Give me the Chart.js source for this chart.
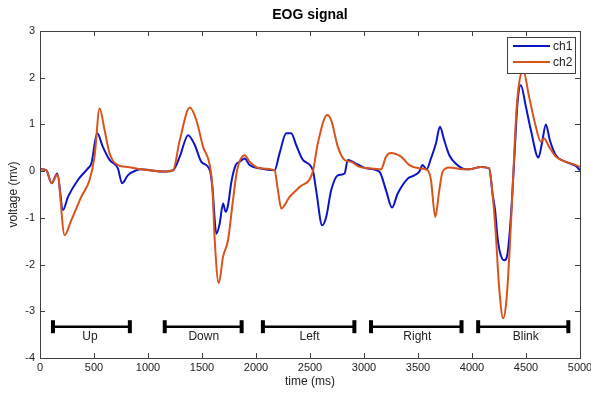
<!DOCTYPE html>
<html>
<head>
<meta charset="utf-8">
<script src="https://cdn.jsdelivr.net/npm/chart.js@4"></script>
<style>
  html, body { margin: 0; padding: 0; background: #fff; }
  #wrap { width: 591px; height: 394px; }
</style>
</head>
<body>
<div id="wrap"><canvas id="eog"></canvas></div>
<script>
// Channel 1 (blue) - time (ms) and voltage (mv)
const ch1Time = [0, 58, 108, 160, 213, 259, 351, 444, 475, 530, 582, 644, 721, 760, 813, 891, 937, 1017, 1140, 1232,
  1294, 1371, 1433, 1494, 1572, 1596, 1633, 1664, 1695, 1719, 1741, 1772, 1812, 1849, 1895, 1941, 2034, 2172, 2218,
  2280, 2326, 2372, 2434, 2526, 2557, 2613, 2650, 2696, 2758, 2820, 2850, 2927, 3020, 3142, 3204, 3260, 3312, 3405,
  3466, 3512, 3543, 3580, 3620, 3666, 3703, 3743, 3790, 3851, 3944, 3974, 4082, 4159, 4190, 4214, 4236, 4258, 4298,
  4329, 4360, 4391, 4421, 4452, 4499, 4545, 4615, 4647, 4684, 4721, 4776, 4869, 4961, 5000];
const ch1Volt = [0.04, 0.02, -0.26, -0.05, -0.83, -0.55, -0.19, 0.06, 0.16, 0.81, 0.52, 0.24, 0.06, -0.26, -0.09, 0.02, 0.04, 0.02, -0.01, 0.02,
  0.31, 0.77, 0.56, 0.2, 0.02, -0.34, -1.34, -1.12, -0.69, -0.87, -0.73, -0.23, 0.13, 0.2, 0.27, 0.13, 0.06, 0.02, 0.38,
  0.81, 0.81, 0.56, 0.24, 0.02, -0.41, -1.16, -0.98, -0.41, -0.09, -0.05, 0.24, 0.16, 0.06, -0.01, -0.41, -0.78, -0.48, -0.16,
  -0.09, -0.01, 0.13, 0.04, 0.27, 0.59, 0.95, 0.66, 0.34, 0.16, 0.04, 0.04, 0.09, 0.06, -0.48, -0.84, -1.41, -1.73, -1.91,
  -1.76, -0.98, 0.24, 1.45, 1.84, 1.38, 0.88, 0.29, 0.59, 1.0, 0.66, 0.34, 0.2, 0.11, 0.02];

// Channel 2 (orange)
const ch2Time = [0, 58, 108, 160, 228, 290, 382, 459, 505, 552, 598, 644, 721, 813, 937, 1017, 1140, 1232,
  1294, 1387, 1448, 1510, 1572, 1596, 1618, 1655, 1695, 1741, 1787, 1825, 1895, 1941, 2034, 2172, 2203, 2234,
  2311, 2403, 2526, 2572, 2659, 2696, 2758, 2820, 2881, 2958, 3050, 3158, 3204, 3250, 3343, 3420, 3512, 3589,
  3620, 3660, 3697, 3728, 3790, 3913, 3974, 4082, 4159, 4190, 4220, 4251, 4288, 4319, 4350, 4381, 4412, 4436,
  4473, 4529, 4591, 4637, 4668, 4714, 4776, 4869, 4961, 5000];
const ch2Volt = [0.04, 0.02, -0.26, -0.07, -1.37, -1.05, -0.55, -0.19, 0.31, 1.34, 0.88, 0.38, 0.13, 0.09, 0.04, 0.02, -0.01, 0.02,
  0.66, 1.36, 1.09, 0.52, 0.13, -0.34, -1.48, -2.40, -1.83, -1.48, -0.62, 0.02, 0.34, 0.2, 0.06, 0.02, -0.41, -0.80,
  -0.55, -0.34, -0.01, 0.59, 1.2, 1.09, 0.52, 0.24, 0.2, 0.09, 0.06, 0.04, 0.31, 0.39, 0.31, 0.13, 0.06, 0.02,
  -0.19, -0.98, -0.41, -0.01, 0.08, 0.04, 0.04, 0.09, 0.06, -0.48, -1.34, -2.48, -3.15, -2.76, -1.62, -0.12, 1.31, 1.88,
  2.16, 1.59, 0.95, 0.63, 0.70, 0.52, 0.31, 0.2, 0.13, 0.09];

// Eye-movement segments (bars at the bottom)
const segNames = ['Up', 'Down', 'Left', 'Right', 'Blink'];
const segStart = [120, 1155, 2064, 3065, 4057];
const segEnd = [832, 1867, 2911, 3903, 4892];
const segLabelX = [462, 1516, 2495, 3494, 4498];
const segLevel = -3.33;
const segLabelLevel = -3.55;

const BLUE = '#0a14c8';
const ORANGE = '#d9541a';
const FONT = '"Liberation Sans", Arial, Helvetica, sans-serif';

function toPoints(xs, ys) {
  return xs.map((x, i) => ({ x: x, y: ys[i] }));
}

const datasets = [
  { label: 'ch1', data: toPoints(ch1Time, ch1Volt), borderColor: BLUE, borderWidth: 2, pointRadius: 0, showLine: true,
    cubicInterpolationMode: 'monotone', order: 2 },
  { label: 'ch2', data: toPoints(ch2Time, ch2Volt), borderColor: ORANGE, borderWidth: 2, pointRadius: 0, showLine: true,
    cubicInterpolationMode: 'monotone', order: 1 }
];

segNames.forEach((name, i) => {
  datasets.push({
    label: name,
    data: [{ x: segStart[i], y: segLevel }, { x: segEnd[i], y: segLevel }],
    borderColor: '#000',
    borderWidth: 2.5,
    showLine: true,
    pointStyle: 'line',
    rotation: 90,
    pointRadius: 6.5,
    pointBorderWidth: 4,
    pointBorderColor: '#000',
    pointBackgroundColor: '#000',
    order: 3
  });
});

// frame, inward ticks, title, segment labels and legend box
const decor = {
  id: 'decor',
  afterDraw(chart) {
    const ctx = chart.ctx;
    const a = chart.chartArea;
    const xs = chart.scales.x, ys = chart.scales.y;
    ctx.save();
    ctx.strokeStyle = '#404040';
    ctx.lineWidth = 1;
    ctx.beginPath();
    xs.ticks.forEach(t => {
      const px = Math.round(xs.getPixelForValue(t.value)) + 0.5;
      ctx.moveTo(px, a.bottom); ctx.lineTo(px, a.bottom - 5);
      ctx.moveTo(px, a.top); ctx.lineTo(px, a.top + 5);
    });
    ys.ticks.forEach(t => {
      const py = Math.round(ys.getPixelForValue(t.value)) + 0.5;
      ctx.moveTo(a.left, py); ctx.lineTo(a.left + 5, py);
      ctx.moveTo(a.right, py); ctx.lineTo(a.right - 5, py);
    });
    ctx.stroke();
    ctx.strokeRect(Math.round(a.left) + 0.5, Math.round(a.top) + 0.5, Math.round(a.right - a.left), Math.round(a.bottom - a.top));

    // title
    ctx.fillStyle = '#000';
    ctx.font = 'bold 14px ' + FONT;
    ctx.textAlign = 'center';
    ctx.textBaseline = 'middle';
    ctx.fillText('EOG signal', (a.left + a.right) / 2, 15);

    // segment labels
    ctx.font = '12px ' + FONT;
    ctx.fillStyle = '#222';
    segNames.forEach((name, i) => {
      ctx.fillText(name, xs.getPixelForValue(segLabelX[i]), ys.getPixelForValue(segLabelLevel));
    });

    // legend
    const lx = 507, ly = 37, lw = 68, lh = 36;
    ctx.fillStyle = '#fff';
    ctx.fillRect(lx, ly, lw, lh);
    ctx.strokeStyle = '#404040';
    ctx.strokeRect(lx + 0.5, ly + 0.5, lw, lh);
    ctx.font = '12px ' + FONT;
    ctx.textAlign = 'left';
    [[BLUE, 'ch1', 46], [ORANGE, 'ch2', 62]].forEach(([c, t, y]) => {
      ctx.strokeStyle = c;
      ctx.lineWidth = 2;
      ctx.beginPath();
      ctx.moveTo(513, y); ctx.lineTo(550, y);
      ctx.stroke();
      ctx.fillStyle = '#222';
      ctx.fillText(t, 553, y + 1);
    });
    ctx.restore();
  }
};

new Chart(document.getElementById('eog'), {
  type: 'scatter',
  data: { datasets: datasets },
  options: {
    responsive: true,
    maintainAspectRatio: false,
    animation: false,
    layout: { padding: { top: 31, right: 11, left: 0, bottom: 0 } },
    plugins: {
      legend: { display: false },
      tooltip: { enabled: false },
      title: { display: false }
    },
    scales: {
      x: {
        type: 'linear',
        min: 0,
        max: 5000,
        ticks: { stepSize: 500, padding: 3, color: '#222', font: { size: 11, family: FONT },
          callback: v => String(v) },
        grid: { display: true, drawOnChartArea: false, drawTicks: false },
        border: { display: false },
        title: { display: true, text: 'time (ms)', color: '#222', font: { size: 12, family: FONT }, padding: { top: 0, bottom: 5 } },
        afterFit(scale) { scale.height = 36; scale.paddingLeft = 0; scale.paddingRight = 0; }
      },
      y: {
        min: -4,
        max: 3,
        ticks: { stepSize: 1, padding: 5, color: '#222', font: { size: 11, family: FONT } },
        grid: { display: true, drawOnChartArea: false, drawTicks: false },
        border: { display: false },
        title: { display: true, text: 'voltage (mv)', color: '#222', font: { size: 12, family: FONT }, padding: { top: 6, bottom: 0 } },
        afterFit(scale) { scale.width = 40; scale.paddingTop = 0; scale.paddingBottom = 0; }
      }
    }
  },
  plugins: [decor]
});
</script>
</body>
</html>
